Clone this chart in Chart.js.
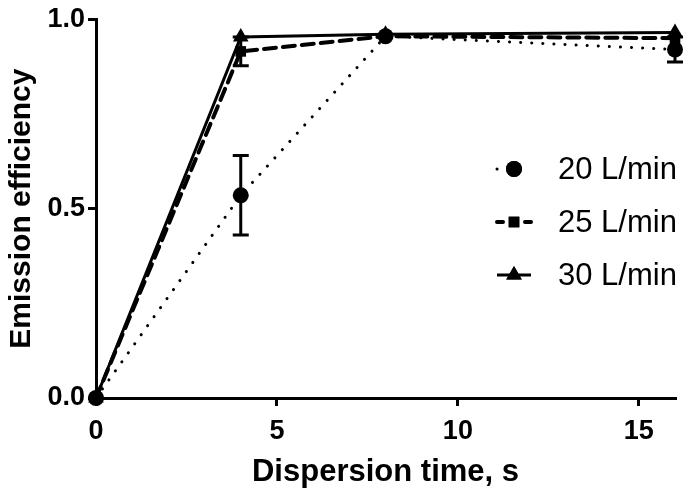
<!DOCTYPE html>
<html>
<head>
<meta charset="utf-8">
<script src="https://cdn.jsdelivr.net/npm/chart.js@4/dist/chart.umd.min.js"></script>
<style>
  html, body { margin: 0; padding: 0; background: #fff; }
  #wrap { width: 685px; height: 495px; }
</style>
</head>
<body>
<div id="wrap"><canvas id="chart"></canvas></div>
<script>
// Dados
const times = [0, 4, 8, 16];
const labels = ['20 L/min', '25 L/min', '30 L/min'];
const eff20 = [0, 0.535, 0.955, 0.92];
const eff25 = [0, 0.915, 0.955, 0.95];
const eff30 = [0, 0.953, 0.96, 0.965];
// barras de erro (± desvio)
const err20 = [0, 0.105, 0, 0.033];
const err25 = [0, 0.038, 0, 0];
const err30 = [0, 0, 0, 0];
const xTicks = [0, 5, 10, 15];
const yTicks = [0, 0.5, 1.0];

const FONT = '"Liberation Sans", Arial, sans-serif';

function toPoints(ys) {
    return times.map((t, i) => ({ x: t, y: ys[i] }));
}

const series = [
    { label: labels[0], data: eff20, err: err20, style: 'circle', radius: 8, dash: [0.1, 11], width: 3 },
    { label: labels[1], data: eff25, err: err25, style: 'rect', radius: 7.5, dash: [12, 7], width: 4 },
    { label: labels[2], data: eff30, err: err30, style: 'triangle', radius: 9, dash: [], width: 3 }
];

// Plugin: barras de erro
const errorBars = {
    id: 'errorBars',
    afterDatasetsDraw(chart) {
        const ctx = chart.ctx;
        const xs = chart.scales.x, ys = chart.scales.y;
        ctx.save();
        ctx.strokeStyle = '#000';
        ctx.lineWidth = 3;
        series.forEach(s => {
            times.forEach((t, i) => {
                const e = s.err[i];
                if (!e) return;
                const px = xs.getPixelForValue(t);
                const top = ys.getPixelForValue(s.data[i] + e);
                const bot = ys.getPixelForValue(s.data[i] - e);
                ctx.beginPath();
                ctx.moveTo(px, top); ctx.lineTo(px, bot);
                ctx.moveTo(px - 8, top); ctx.lineTo(px + 8, top);
                ctx.moveTo(px - 8, bot); ctx.lineTo(px + 8, bot);
                ctx.stroke();
            });
        });
        ctx.restore();
    }
};

// Plugin: legenda desenhada à mão (linha + marcador + texto)
const customLegend = {
    id: 'customLegend',
    afterDraw(chart) {
        const ctx = chart.ctx;
        const rows = [169, 222, 275];
        ctx.save();
        series.forEach((s, i) => {
            const y = rows[i];
            ctx.strokeStyle = '#000';
            ctx.lineWidth = s.width;
            ctx.lineCap = s.dash.length ? 'round' : 'butt';
            ctx.setLineDash(s.dash.length ? (i === 0 ? [0.1, 17] : [6, 22]) : []);
            ctx.beginPath();
            ctx.moveTo(497, y); ctx.lineTo(531, y);
            ctx.stroke();
            ctx.setLineDash([]);
            ctx.fillStyle = '#000';
            Chart.helpers.drawPoint(ctx, { pointStyle: s.style, radius: s.radius, rotation: 0, borderWidth: 0 }, 514, y);
            ctx.fill();
            ctx.font = '31px ' + FONT;
            ctx.textBaseline = 'middle';
            ctx.fillText(s.label, 558, y + 1);
        });
        ctx.restore();
    }
};

new Chart(document.getElementById('chart'), {
    type: 'line',
    data: {
        datasets: series.map(s => ({
            label: s.label,
            data: toPoints(s.data),
            borderColor: '#000',
            backgroundColor: '#000',
            borderWidth: s.width,
            borderDash: s.dash,
            borderCapStyle: s.dash.length ? 'round' : 'butt',
            pointStyle: s.style,
            pointRadius: s.radius,
            pointBorderWidth: 0,
            pointBackgroundColor: '#000',
            tension: 0,
            clip: false
        }))
    },
    options: {
        responsive: true,
        maintainAspectRatio: false,
        animation: false,
        layout: { padding: { left: 0, right: 10, top: 15, bottom: 0 } },
        plugins: { legend: { display: false }, tooltip: { enabled: false } },
        scales: {
            x: {
                type: 'linear',
                min: 0, max: 16,
                afterBuildTicks: sc => { sc.ticks = xTicks.map(v => ({ value: v })); },
                afterFit: sc => { sc.height = 97; },
                border: { display: true, color: '#000', width: 3 },
                grid: { drawOnChartArea: false, color: '#000', tickColor: '#000', tickLength: 8, lineWidth: 3 },
                ticks: { color: '#000', font: { family: FONT, size: 27, weight: 'bold' }, padding: 9, maxRotation: 0 },
                title: { display: true, text: 'Dispersion time, s', color: '#000', font: { family: FONT, size: 31, weight: 'bold' }, padding: { top: 0 } }
            },
            y: {
                type: 'linear',
                min: 0, max: 1,
                afterBuildTicks: sc => { sc.ticks = yTicks.map(v => ({ value: v })); },
                afterFit: sc => { sc.width = 96; },
                border: { display: true, color: '#000', width: 3 },
                grid: { drawOnChartArea: false, color: '#000', tickColor: '#000', tickLength: 8, lineWidth: 3 },
                ticks: { color: '#000', font: { family: FONT, size: 27, weight: 'bold' }, padding: 3, callback: v => v.toFixed(1) },
                title: { display: true, text: 'Emission efficiency', color: '#000', font: { family: FONT, size: 30, weight: 'bold' }, padding: { bottom: 0 } }
            }
        }
    },
    plugins: [errorBars, customLegend]
});
</script>
</body>
</html>
